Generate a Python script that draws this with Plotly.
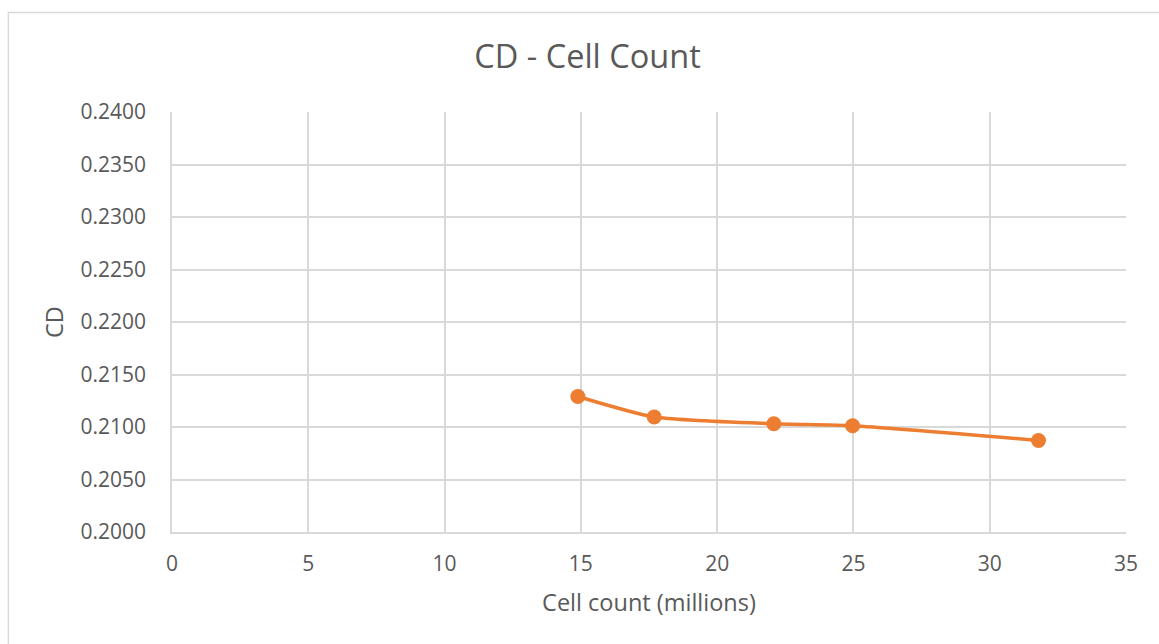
import plotly.graph_objects as go

cell_count = [14.89, 17.69, 22.08, 24.97, 31.79]
cd_values = [0.2129, 0.21095, 0.21031, 0.21012, 0.20872]
x_ticks = [0, 5, 10, 15, 20, 25, 30, 35]
y_ticks = [0.2000, 0.2050, 0.2100, 0.2150, 0.2200, 0.2250, 0.2300, 0.2350, 0.2400]

TEXT = "#595959"
GRID = "#d9d9d9"
ORANGE = "#ED7D31"
FONT = "Open Sans"

fig = go.Figure()
fig.add_trace(go.Scatter(
    x=cell_count, y=cd_values, mode="lines+markers",
    line=dict(color=ORANGE, width=3.5, shape="spline", smoothing=0.6),
    marker=dict(color=ORANGE, size=15),
    showlegend=False,
))

W, H = 1159, 644
L, R, T, B = 172, 33, 112, 112
pw, ph = W - L - R, H - T - B

fig.update_layout(
    width=W, height=H,
    margin=dict(l=L, r=R, t=T, b=B),
    paper_bgcolor="white", plot_bgcolor="white",
    font=dict(family=FONT, color=TEXT),
    title=dict(text="CD - Cell Count", x=587.5 / W, xref="container", xanchor="center",
               y=1 - 57 / H, yref="container", yanchor="middle",
               font=dict(size=32.5, color=TEXT, family=FONT)),
    xaxis=dict(range=[0, 35], tickvals=x_ticks, ticktext=[str(v) for v in x_ticks],
               showgrid=True, gridcolor=GRID, gridwidth=1.5,
               showline=True, linecolor=GRID, linewidth=1.5, zeroline=False,
               ticks="", ticklabelstandoff=12,
               tickfont=dict(size=21, color=TEXT),
               title=dict(text="Cell count (millions)", font=dict(size=23.5, color=TEXT), standoff=19)),
    yaxis=dict(range=[0.2, 0.24], tickvals=y_ticks, ticktext=[f"{v:.4f}" for v in y_ticks],
               showgrid=True, gridcolor=GRID, gridwidth=1.5,
               showline=True, linecolor=GRID, linewidth=1.5, zeroline=False,
               ticks="", ticklabelstandoff=20,
               tickfont=dict(size=21, color=TEXT),
               title=dict(text="CD", font=dict(size=23.5, color=TEXT), standoff=10)),
    shapes=[dict(type="rect", xref="paper", yref="paper",
                 x0=(8.3 - L) / pw, x1=1.2, y0=-0.6, y1=(H - B - 12.5) / ph,
                 line=dict(color=GRID, width=1.3), fillcolor="rgba(0,0,0,0)", layer="below")],
)

fig.write_html("out.html")
